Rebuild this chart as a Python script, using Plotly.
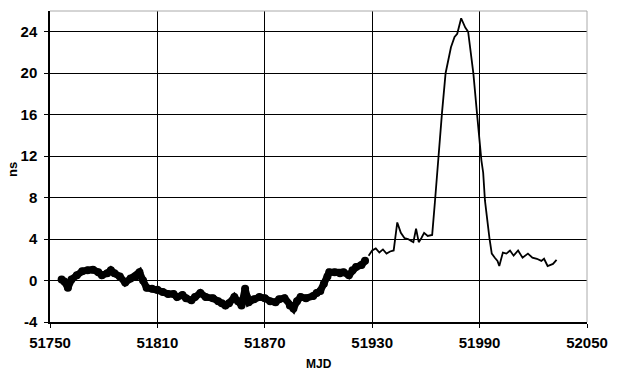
import plotly.graph_objects as go

# Thick (daily) section
mjd_a = [51756.5, 51758, 51760, 51762, 51765, 51768, 51771, 51774, 51777, 51779,
         51782, 51784, 51786, 51789, 51792, 51795, 51798, 51800, 51802, 51804,
         51807, 51810, 51813, 51816, 51819, 51821, 51824, 51826, 51829, 51831,
         51834, 51837, 51841, 51844, 51846, 51848, 51850, 51853, 51855, 51857,
         51859, 51860, 51861, 51864, 51867, 51870, 51873, 51876, 51878, 51881,
         51884, 51886, 51888, 51890, 51893, 51897, 51899, 51901, 51903, 51905,
         51906, 51909, 51912, 51914, 51917, 51919, 51921, 51924, 51926]
ns_a = [0.1, -0.1, -0.7, 0.1, 0.5, 0.9, 1.0, 1.05, 0.8, 0.5,
        0.7, 1.0, 0.7, 0.4, -0.2, 0.2, 0.4, 0.8, 0.0, -0.7,
        -0.8, -0.9, -1.1, -1.3, -1.3, -1.6, -1.4, -1.7, -1.9, -1.6,
        -1.2, -1.6, -1.7, -2.0, -2.2, -2.4, -2.2, -1.6, -2.0, -2.4,
        -0.8, -1.6, -2.1, -1.8, -1.6, -1.7, -2.0, -2.1, -1.8, -1.7,
        -2.4, -2.7, -2.0, -1.6, -1.7, -1.5, -1.2, -1.0, -0.3, 0.4,
        0.8, 0.8, 0.7, 0.8, 0.5, 1.0, 1.3, 1.5, 1.9]

# Thin section
mjd_b = [51928, 51930, 51932, 51934, 51936, 51938, 51940, 51942, 51944, 51946,
         51948, 51950, 51952, 51953, 51954.5, 51956, 51957.5, 51959, 51961, 51963.5,
         51965, 51967, 51969, 51971, 51974, 51976, 51977.5, 51979.7, 51982, 51983.6,
         51986.5, 51988.5, 51990, 51991, 51992, 51993, 51995.5, 51996.8, 51998.5, 52000,
         52001, 52003, 52005, 52007, 52009, 52011.5, 52014, 52017, 52019.5, 52022,
         52024.5, 52026, 52028, 52031, 52033]
ns_b = [2.4, 2.9, 3.1, 2.7, 3.0, 2.6, 2.8, 2.9, 5.6, 4.6,
        4.1, 4.0, 3.8, 3.7, 5.0, 3.7, 4.1, 4.6, 4.3, 4.4,
        7.5, 12.3, 16.2, 20.0, 22.5, 23.5, 23.8, 25.3, 24.4, 24.0,
        20.0, 16.2, 13.0, 11.6, 10.4, 7.7, 4.1, 2.6, 2.2, 1.9,
        1.4, 2.7, 2.6, 2.9, 2.4, 2.9, 2.2, 2.6, 2.2, 2.1,
        1.9, 2.1, 1.4, 1.6, 2.0]

x_ticks = [51750, 51810, 51870, 51930, 51990, 52050]
y_ticks = [-4, 0, 4, 8, 12, 16, 20, 24]

fig = go.Figure()
fig.add_trace(go.Scatter(x=mjd_a, y=ns_a, mode="lines+markers",
                         line=dict(color="black", width=7),
                         marker=dict(color="black", size=8),
                         showlegend=False))
fig.add_trace(go.Scatter(x=mjd_b, y=ns_b, mode="lines",
                         line=dict(color="black", width=1.8),
                         showlegend=False))

fam = "Liberation Sans, Arial, sans-serif"
font_main = dict(family=fam, size=15, color="black")

fig.update_layout(
    width=619, height=375,
    margin=dict(l=50, r=23, t=11, b=53),
    paper_bgcolor="white", plot_bgcolor="white",
    font=font_main,
    xaxis=dict(range=[51750, 52050], tickvals=x_ticks, ticktext=[f"<b>{v}</b>" for v in x_ticks],
               showgrid=True, gridcolor="black", gridwidth=1,
               showline=True, linecolor="black", linewidth=1.5,
               ticks="outside", ticklen=4, tickcolor="black", zeroline=False,
               ticklabelstandoff=2),
    yaxis=dict(range=[-4, 26], tickvals=y_ticks, ticktext=[f"<b>{v}</b>" for v in y_ticks],
               showgrid=True, gridcolor="black", gridwidth=1,
               showline=True, linecolor="black", linewidth=1.5,
               ticks="outside", ticklen=4, tickcolor="black", zeroline=False,
               ticklabelstandoff=4),
    annotations=[
        dict(text="<b>MJD</b>", x=0.5, y=-0.135, xref="paper", yref="paper",
             xanchor="center", yanchor="middle", showarrow=False,
             font=dict(family=fam, size=12, color="black")),
        dict(text="<b>ns</b>", x=-0.07, y=0.49, xref="paper", yref="paper",
             xanchor="center", yanchor="middle", textangle=-90, showarrow=False,
             font=dict(family=fam, size=13, color="black")),
    ],
    shapes=[
        dict(type="line", xref="paper", yref="paper", x0=0, x1=1, y0=1, y1=1,
             line=dict(color="#aaaaaa", width=1)),
        dict(type="line", xref="paper", yref="paper", x0=1, x1=1, y0=0, y1=1,
             line=dict(color="#aaaaaa", width=1)),
    ],
)

fig.write_html("out.html")
